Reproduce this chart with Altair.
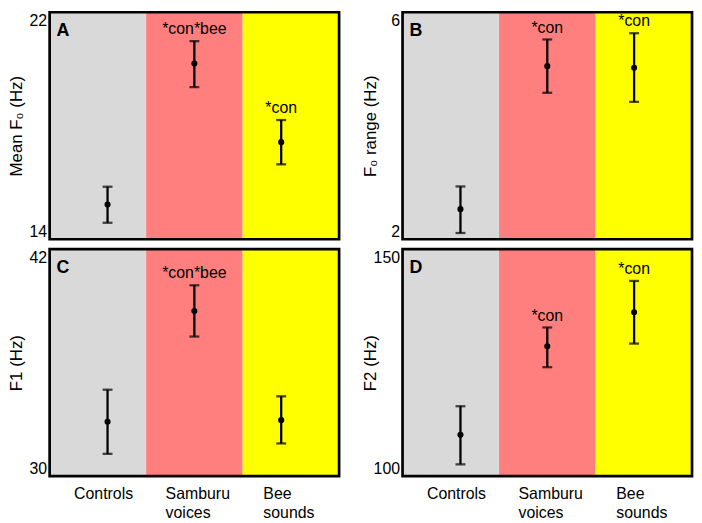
import altair as alt
import pandas as pd

categories = ["Controls", "Samburu voices", "Bee sounds"]
bg_colors = ["#d9d9d9", "#ff7f7f", "#ffff00"]

# Panel A: Mean F0 (Hz)
a_mean = [15.22, 20.19, 17.42]
a_lo = [14.58, 19.36, 16.64]
a_hi = [15.85, 20.98, 18.20]
a_note = ["", "*con*bee", "*con"]

# Panel B: F0 range (Hz)
b_mean = [2.53, 5.05, 5.02]
b_lo = [2.11, 4.58, 4.42]
b_hi = [2.93, 5.52, 5.63]
b_note = ["", "*con", "*con"]

# Panel C: F1 (Hz)
c_mean = [32.87, 38.73, 32.96]
c_lo = [31.18, 37.38, 31.73]
c_hi = [34.57, 40.09, 34.22]
c_note = ["", "*con*bee", ""]

# Panel D: F2 (Hz)
d_mean = [109.1, 128.6, 136.1]
d_lo = [102.6, 124.0, 129.2]
d_hi = [115.4, 132.75, 143.0]
d_note = ["", "*con", "*con"]

W, H = 292, 229
FONT = "Liberation Sans"


def panel(letter, title, dom, mean, lo, hi, note, bottom, title_x):
    df = pd.DataFrame({"cat": categories, "mean": mean, "lo": lo, "hi": hi, "note": note})
    base = alt.Chart(df)
    xband = alt.X("cat:N", scale=alt.Scale(domain=categories, paddingInner=0, paddingOuter=0), axis=None)
    xpt = alt.X("cat:N", scale=alt.Scale(type="point", domain=categories, padding=0.667), axis=None)
    ysc = alt.Scale(domain=dom, nice=False, zero=False)
    yax = alt.Axis(values=dom, labelFlush=True, domain=False, ticks=False, grid=False,
                   labelPadding=3, labelFontSize=16, labelFont=FONT, labelColor="black",
                   title=title, titleFontSize=17, titleFont=FONT, titleFontWeight="normal",
                   titleColor="black", titleX=title_x, titleY=H / 2, titleAngle=270,
                   titleBaseline="bottom", titleAlign="center")

    bg = base.mark_rect().encode(
        x=xband, y=alt.value(0), y2=alt.value(H),
        color=alt.Color("cat:N", scale=alt.Scale(domain=categories, range=bg_colors), legend=None))
    rule = base.mark_rule(color="black", strokeWidth=2.3).encode(
        x=xpt, y=alt.Y("lo:Q", scale=ysc, axis=yax), y2="hi:Q")
    cap_lo = base.mark_tick(color="black", size=10, thickness=2.3).encode(
        x=xpt, y=alt.Y("lo:Q", scale=ysc, axis=yax))
    cap_hi = base.mark_tick(color="black", size=10, thickness=2.3).encode(
        x=xpt, y=alt.Y("hi:Q", scale=ysc, axis=yax))
    pts = base.mark_circle(color="black", size=38, opacity=1).encode(
        x=xpt, y=alt.Y("mean:Q", scale=ysc, axis=yax))
    notes = base.transform_filter("datum.note != ''").mark_text(
        font=FONT, fontSize=16, color="black", baseline="middle", dy=-12).encode(
        x=xpt, y=alt.Y("hi:Q", scale=ysc, axis=yax), text="note:N")
    lab = alt.Chart(pd.DataFrame({"letter": [letter]})).mark_text(
        font=FONT, fontSize=18, fontWeight="bold", color="black", align="left",
        baseline="alphabetic").encode(x=alt.value(7), y=alt.value(24), text="letter:N")
    frame = alt.Chart(pd.DataFrame({"letter": [letter]})).mark_rect(
        fillOpacity=0, stroke="black", strokeWidth=2.7).encode(
        x=alt.value(0), x2=alt.value(W), y=alt.value(0), y2=alt.value(H))
    layers = [bg, rule, cap_lo, cap_hi, pts, notes, lab, frame]
    if bottom:
        specs = [("Controls", "center", -4), ("Samburu voices", "left", -29), ("Bee sounds", "left", -18)]
        for cat, al, dx in specs:
            layers.append(base.transform_filter(alt.datum.cat == cat).mark_text(
                font=FONT, fontSize=16, color="black", align=al, baseline="top", dx=dx,
                lineBreak=" ", lineHeight=19).encode(x=xpt, y=alt.value(H + 10), text="cat:N"))
    return alt.layer(*layers).resolve_scale(x="independent").properties(width=W, height=H)


pA = panel("A", "Mean F\u2080 (Hz)", [14, 22], a_mean, a_lo, a_hi, a_note, False, -24)
pB = panel("B", "F\u2080 range (Hz)", [2, 6], b_mean, b_lo, b_hi, b_note, False, -23)
pC = panel("C", "F1 (Hz)", [30, 42], c_mean, c_lo, c_hi, c_note, True, -24)
pD = panel("D", "F2 (Hz)", [100, 150], d_mean, d_lo, d_hi, d_note, True, -23)

chart = alt.concat(pA, pB, pC, pD, columns=2, spacing={"row": 10, "column": 64},
                   bounds="flush").properties(padding=0).configure_view(stroke=None)

chart.save("out.html", embed_options={"renderer": "svg", "actions": False})
